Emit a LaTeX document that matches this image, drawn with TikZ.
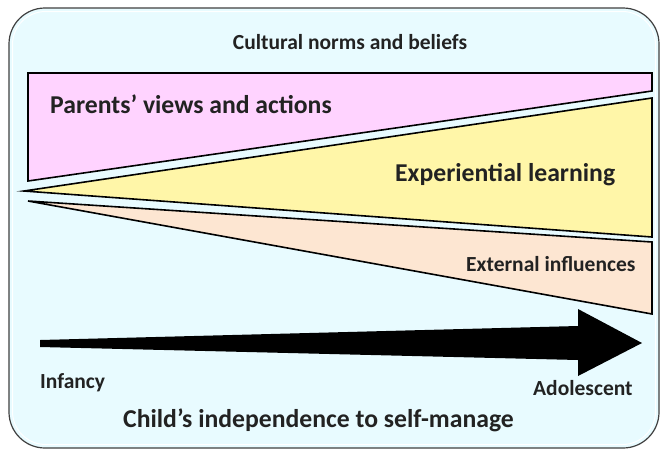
\documentclass[tikz,border=0pt]{standalone}
\usepackage{fontspec}
\setmainfont{Carlito}
\definecolor{bgc}{HTML}{E8FBFF}
\definecolor{pinkc}{HTML}{FFD3FF}
\definecolor{yellc}{HTML}{FFF6A8}
\definecolor{peachc}{HTML}{FDE6D2}
\definecolor{txt}{HTML}{222222}
\begin{document}
\begin{tikzpicture}[x=1pt,y=-1pt,
  band/.style={draw=black,line width=1.6pt,line join=miter},
  lbl/.style={text=txt,font=\bfseries,inner sep=0pt},
  big/.style={font=\bfseries\fontsize{25.7}{30}\selectfont},
  small/.style={font=\bfseries\fontsize{21.5}{25}\selectfont}]
\useasboundingbox (0,0) rectangle (660,450);
\fill[white] (0,0) rectangle (660,450);
% outer frame
\node[draw=black!75,line width=1.2pt,fill=bgc,rounded corners=36pt,minimum width=650pt,minimum height=440pt,inner sep=0pt] (frame) at (334,228) {};
\draw[white,line width=1pt,rounded corners=33pt] (12.5,11.5) rectangle (655.5,444.5);
% bands
\filldraw[band,fill=pinkc] (28,73) coordinate (p1) -- (652,73) -- (652,91) -- (28,181) -- cycle;
\filldraw[band,fill=yellc] (24,191) coordinate (y1) -- (652,98) -- (652,237) -- cycle;
\filldraw[band,fill=peachc] (28,201) coordinate (e1) -- (652,242) -- (652,314) -- cycle;
% arrow
\fill[black] (40,340) -- (578,326) -- (578,309) -- (642,343) -- (578,376) -- (578,360) -- (40,347) -- cycle;
% texts
\node[lbl,small] (cult) at (350,42) {Cultural norms and beliefs};
\node[lbl,big,anchor=west] (par) at (50,104) {Parents’ views and actions};
\node[lbl,big,anchor=west] (exp) at (395,175) {Experiential learning};
\node[lbl,small,anchor=west] (ext) at (466,264) {External influences};
\node[lbl,small,anchor=west] (inf) at (40,383) {Infancy};
\node[lbl,small,anchor=west] (ado) at (533,388) {Adolescent};
\node[lbl,big,anchor=west] (child) at (123,420) {Child’s independence to self-manage};
\end{tikzpicture}
\end{document}
